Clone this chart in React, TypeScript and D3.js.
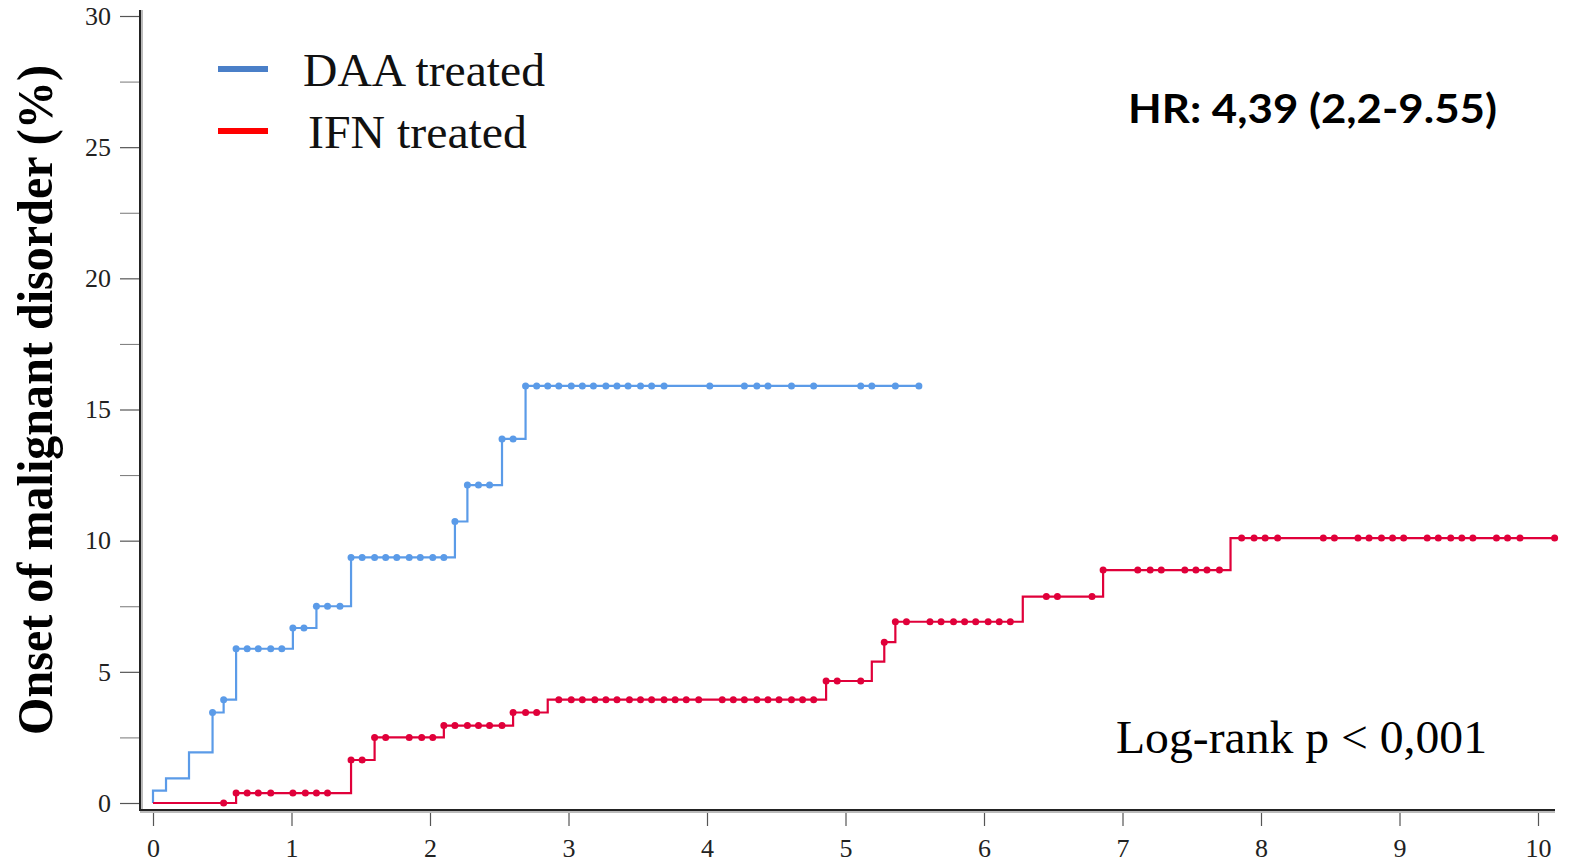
import React, { useEffect, useRef } from 'react';
import * as d3 from 'd3';

// cumulative incidence steps [years, %]
const daaSteps: [number, number][] = [
  [0, 0], [0, 0.47], [0.094, 0.94], [0.26, 1.93], [0.43, 3.45], [0.51, 3.94], [0.6, 5.88],
  [1.01, 6.67], [1.18, 7.5], [1.43, 9.36], [2.18, 10.73], [2.27, 12.12], [2.52, 13.88], [2.69, 15.9],
];
const daaEnd = 5.53;
const daaCensor = [
  0.43, 0.51, 0.6, 0.68, 0.76, 0.85, 0.93, 1.01, 1.09, 1.18, 1.26, 1.35, 1.43, 1.51, 1.6, 1.68,
  1.76, 1.85, 1.93, 2.02, 2.1, 2.18, 2.27, 2.35, 2.43, 2.52, 2.6, 2.69, 2.77, 2.85, 2.93, 3.02,
  3.1, 3.18, 3.27, 3.35, 3.43, 3.52, 3.6, 3.69, 4.02, 4.27, 4.36, 4.44, 4.61, 4.77, 5.11, 5.19,
  5.36, 5.53,
];

const ifnSteps: [number, number][] = [
  [0, 0], [0.6, 0.38], [1.43, 1.64], [1.6, 2.5], [2.1, 2.95], [2.6, 3.45], [2.85, 3.94],
  [4.86, 4.65], [5.19, 5.39], [5.28, 6.13], [5.36, 6.91], [6.28, 7.87], [6.86, 8.88], [7.78, 10.1],
];
const ifnEnd = 10.12;
const ifnCensor = [
  0.51, 0.6, 0.68, 0.76, 0.85, 1.01, 1.1, 1.18, 1.26, 1.43, 1.51, 1.6, 1.68, 1.85, 1.94, 2.02,
  2.1, 2.18, 2.27, 2.35, 2.43, 2.52, 2.6, 2.69, 2.77, 2.93, 3.02, 3.1, 3.19, 3.27, 3.35, 3.44,
  3.52, 3.6, 3.69, 3.77, 3.85, 3.94, 4.11, 4.19, 4.27, 4.36, 4.44, 4.52, 4.61, 4.69, 4.77, 4.86,
  4.94, 5.11, 5.28, 5.36, 5.44, 5.61, 5.69, 5.78, 5.86, 5.94, 6.03, 6.11, 6.19, 6.45, 6.53, 6.78,
  6.86, 7.11, 7.2, 7.28, 7.45, 7.53, 7.61, 7.7, 7.86, 7.95, 8.03, 8.12, 8.45, 8.53, 8.7, 8.78,
  8.87, 8.95, 9.03, 9.2, 9.28, 9.37, 9.45, 9.53, 9.7, 9.78, 9.87, 10.12,
];

const xTicks = [0, 1, 2, 3, 4, 5, 6, 7, 8, 9, 10];
const yTicks = [0, 5, 10, 15, 20, 25, 30];
const yMinorTicks = [2.5, 7.5, 12.5, 17.5, 22.5, 27.5];

const legendLabels = ['DAA treated', 'IFN treated'];
const yTitle = 'Onset of malignant disorder (%)';
const hrText = 'HR: 4,39 (2,2-9.55)';
const pText = 'Log-rank p < 0,001';

const W = 1572;
const H = 862;

const App = () => {
  const ref = useRef<SVGSVGElement>(null);

  useEffect(() => {
    const svg = d3.select(ref.current);
    svg.selectAll('*').remove();

    const x = d3.scaleLinear().domain([0, 10]).range([153, 1538]);
    const y = d3.scaleLinear().domain([0, 30]).range([803, 16]);
    const serif = '"Liberation Serif", "Times New Roman", serif';

    // axes
    const yAxis = svg.append('g').attr('transform', 'translate(140,0)')
      .call(d3.axisLeft(y).tickValues(yTicks).tickSize(20).tickPadding(9).tickSizeOuter(0));
    yAxis.select('.domain').remove();
    yAxis.selectAll('text').style('font-family', serif).style('font-size', '26px').attr('fill', '#222');
    yAxis.selectAll('line').attr('stroke', '#555').attr('stroke-width', 1.2);
    svg.append('g').attr('transform', 'translate(140,0)')
      .call(d3.axisLeft(y).tickValues(yMinorTicks).tickSize(20).tickFormat(() => '').tickSizeOuter(0))
      .call((g) => g.select('.domain').remove())
      .selectAll('line').attr('stroke', '#777').attr('stroke-width', 1);

    const xAxis = svg.append('g').attr('transform', 'translate(0,810)')
      .call(d3.axisBottom(x).tickValues(xTicks).tickSize(16).tickPadding(13).tickSizeOuter(0));
    xAxis.select('.domain').remove();
    xAxis.selectAll('text').style('font-family', serif).style('font-size', '26px').attr('fill', '#222');
    xAxis.selectAll('line').attr('stroke', '#555').attr('stroke-width', 1.2);

    // axis lines with soft shadow
    svg.append('line').attr('x1', 141.5).attr('x2', 141.5).attr('y1', 10).attr('y2', 812)
      .attr('stroke', '#bbb').attr('stroke-width', 3);
    svg.append('line').attr('x1', 140).attr('x2', 140).attr('y1', 10).attr('y2', 811)
      .attr('stroke', '#222').attr('stroke-width', 2);
    svg.append('line').attr('x1', 140).attr('x2', 1555).attr('y1', 811.5).attr('y2', 811.5)
      .attr('stroke', '#bbb').attr('stroke-width', 3);
    svg.append('line').attr('x1', 139).attr('x2', 1555).attr('y1', 810).attr('y2', 810)
      .attr('stroke', '#222').attr('stroke-width', 2);

    // curves
    const stepAt = (steps: [number, number][], t: number) => {
      let v = 0;
      steps.forEach((s) => { if (s[0] <= t + 1e-9) v = s[1]; });
      return v;
    };
    const line = d3.line<[number, number]>()
      .x((d) => x(d[0])).y((d) => y(d[1])).curve(d3.curveStepAfter);

    const series = [
      { steps: daaSteps, end: daaEnd, censor: daaCensor, color: '#5b9be8' },
      { steps: ifnSteps, end: ifnEnd, censor: ifnCensor, color: '#e0003a' },
    ];
    series.forEach((s) => {
      const pts: [number, number][] = [...s.steps, [s.end, s.steps[s.steps.length - 1][1]]];
      svg.append('path').attr('d', line(pts)).attr('fill', 'none')
        .attr('stroke', s.color).attr('stroke-width', 2.2);
      svg.append('g').selectAll('circle').data(s.censor).enter().append('circle')
        .attr('cx', (d) => x(d)).attr('cy', (d) => y(stepAt(s.steps, d)))
        .attr('r', 3.5).attr('fill', s.color);
    });

    // y title
    svg.append('text')
      .attr('transform', 'translate(52,400) rotate(-90)')
      .attr('text-anchor', 'middle')
      .attr('textLength', 670).attr('lengthAdjust', 'spacingAndGlyphs')
      .style('font-family', serif).style('font-weight', 'bold').style('font-size', '50px')
      .attr('fill', '#000').text(yTitle);

    // legend
    const legendColors = ['#4a7fc8', '#ff0000'];
    const legendX = [303, 308];
    legendLabels.forEach((lab, i) => {
      const ly = 69 + i * 62;
      svg.append('line').attr('x1', 218).attr('x2', 268).attr('y1', ly).attr('y2', ly)
        .attr('stroke', legendColors[i]).attr('stroke-width', 6);
      svg.append('text').attr('x', legendX[i]).attr('y', ly + 17)
        .attr('textLength', i === 0 ? 242 : 219).attr('lengthAdjust', 'spacingAndGlyphs')
        .style('font-family', serif).style('font-size', '46px').attr('fill', '#111').text(lab);
    });

    svg.append('text').attr('x', 1128).attr('y', 123)
      .attr('textLength', 369).attr('lengthAdjust', 'spacingAndGlyphs')
      .style('font-family', 'Lato, "Open Sans", sans-serif').style('font-weight', 'bold')
      .style('font-size', '40px').attr('fill', '#000').text(hrText);

    svg.append('text').attr('x', 1116).attr('y', 753)
      .attr('textLength', 371).attr('lengthAdjust', 'spacingAndGlyphs')
      .style('font-family', serif).style('font-size', '46px').attr('fill', '#000').text(pText);
  }, []);

  return (
    <svg ref={ref} width={W} height={H}
      style={{ position: 'absolute', left: 0, top: 0, background: '#fff' }} />
  );
};

export default App;
